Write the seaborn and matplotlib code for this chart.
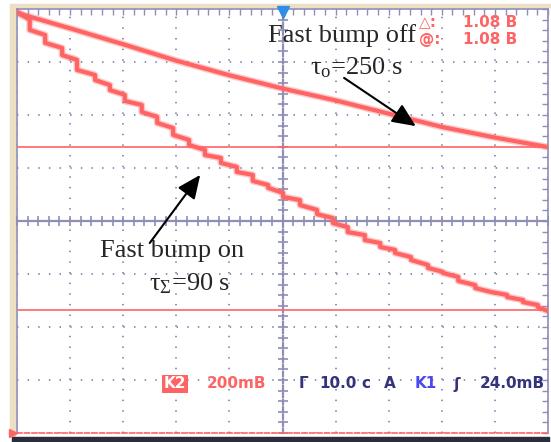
import numpy as np
import pandas as pd
import matplotlib
matplotlib.use("Agg")
import matplotlib.pyplot as plt
import seaborn as sns
from matplotlib.patches import Rectangle
from matplotlib.ticker import MultipleLocator

# scope settings: 10 s/div, 200 mV/div, 10 x 8 divisions
# trace with the fast bump switched off (smooth decay)
upper_t = [0, 10, 20, 30, 40, 50, 60, 70, 80, 90, 100]
upper_mv = [785, 727, 667, 605, 550, 500, 455, 405, 355, 315, 279]

# trace with the fast bump on (stepped decay): step times and segment levels
step_t = [2.4, 5.3, 8.5, 11.3, 14.7, 17.5, 20.3, 23.5, 26.4, 29.4, 32.4,
          35.4, 38.4, 41.4, 44.4, 47.3, 50.1, 53.3, 56.5, 59.5, 62.3, 65.5,
          68.4, 71.2, 74.2, 77.4, 80.2, 83.1, 86.3, 89.3, 92.3, 95.3, 98.1]
seg_start_mv = [789, 721, 672, 626, 570, 532, 494, 453, 411, 370, 325, 287,
                249, 219, 185, 151, 125, 91, 60, 26, -8, -42, -72, -98, -121,
                -147, -177, -196, -226, -253, -268, -287, -306, -325]
seg_end_mv = [759, 702, 653, 608, 551, 513, 476, 438, 393, 351, 306, 268,
              238, 204, 174, 136, 106, 79, 42, 11, -23, -53, -83, -109, -136,
              -166, -192, -211, -242, -268, -279, -298, -317, -340]

cursor_mv = [279, -336]

edges = [0] + step_t + [100]
lower_t, lower_mv = [], []
for i in range(len(seg_start_mv)):
    lower_t += [edges[i], edges[i + 1]]
    lower_mv += [seg_start_mv[i], seg_end_mv[i]]

upper = pd.DataFrame({"t": upper_t, "mv": upper_mv})
lower = pd.DataFrame({"t": lower_t, "mv": lower_mv})

sns.set_style("white")
plt.rcParams["font.family"] = ["Liberation Serif", "DejaVu Serif"]
plt.rcParams["mathtext.fontset"] = "custom"
plt.rcParams["mathtext.rm"] = "Liberation Serif"
plt.rcParams["mathtext.it"] = "Liberation Serif:italic"

RED = "#ff6464"
GRID = "#8e8eb8"
NAVY = "#34347a"

fig = plt.figure(figsize=(5.51, 4.42), dpi=100)
ax = fig.add_axes([17 / 551, 9 / 442, 531 / 551, 424 / 442])

# frame decoration
fig.add_artist(Rectangle((10 / 551, 6 / 442), 5 / 551, 430 / 442,
                         transform=fig.transFigure, color="#ecdfc4", zorder=0))
fig.add_artist(Rectangle((10 / 551, 435 / 442), 541 / 551, 3 / 442,
                         transform=fig.transFigure, color="#ecdfc4", zorder=0))
fig.add_artist(Rectangle((12 / 551, 0), 537 / 551, 5 / 442,
                         transform=fig.transFigure, color="#2c2c3a", zorder=0))

for df in (upper, lower):
    sns.lineplot(data=df, x="t", y="mv", ax=ax, sort=False, estimator=None,
                 color=RED, lw=5, alpha=0.35, zorder=3)
    sns.lineplot(data=df, x="t", y="mv", ax=ax, sort=False, estimator=None,
                 color=RED, lw=3, zorder=4)

for c in cursor_mv:
    ax.axhline(c, color=RED, lw=1.2, zorder=2)

ax.set_xlim(0, 100)
ax.set_ylim(-800, 800)
ax.set_xticks(range(0, 101, 10))
ax.set_yticks(range(-800, 801, 200))
ax.xaxis.set_minor_locator(MultipleLocator(2))
ax.yaxis.set_minor_locator(MultipleLocator(40))
ax.grid(True, color=GRID, lw=1.4, linestyle=(0, (0.75, 4.72)))
ax.tick_params(which="both", direction="in", top=True, right=True,
               labelbottom=False, labelleft=False, length=4, width=1,
               color=GRID)
ax.set_xlabel("")
ax.set_ylabel("")
for s in ax.spines.values():
    s.set_color(GRID)
    s.set_linewidth(1.2)
ax.spines["bottom"].set_color(RED)
ax.spines["bottom"].set_linestyle((0, (3, 1.5)))

# centre axes with ticks
secx = ax.secondary_xaxis(0.5)
secx.set_xticks(np.arange(0, 101, 2))
secx.tick_params(direction="inout", length=7, width=1.2, color=GRID,
                 labelbottom=False, labeltop=False)
for s in secx.spines.values():
    s.set_color(GRID)
    s.set_linewidth(1.6)
secy = ax.secondary_yaxis(0.5)
secy.set_yticks(np.arange(-800, 801, 40))
secy.tick_params(direction="inout", length=7, width=1.2, color=GRID,
                 labelleft=False, labelright=False)
for s in secy.spines.values():
    s.set_color(GRID)
    s.set_linewidth(1.6)
    s.set_linestyle((0, (2, 1.2)))

# trigger markers
ax.plot(0.5, 0.993, marker="v", ms=8, color="#2f8fe8",
        transform=ax.transAxes, clip_on=False, zorder=6)
ax.plot(-0.008, 0.0, marker=">", ms=6, color=RED,
        transform=ax.transAxes, clip_on=False, zorder=6)

# annotations
ax.text(47.3, 676, "Fast bump off", fontsize=19, ha="left", va="baseline",
        zorder=7)
ax.text(55.2, 555, r"$\mathrm{\tau_o}$=250 s", fontsize=19, ha="left",
        va="baseline", zorder=7)
ax.annotate("", xy=(75.1, 358), xytext=(61.6, 540),
            arrowprops=dict(arrowstyle="-|>,head_length=0.72,head_width=0.32",
                            mutation_scale=20, lw=1.5, color="black",
                            shrinkA=0, shrinkB=0), zorder=7)
ax.text(15.6, -136, "Fast bump on", fontsize=19, ha="left", va="baseline",
        zorder=7)
ax.text(24.9, -260, r"$\mathrm{\tau_\Sigma}$=90 s", fontsize=19, ha="left",
        va="baseline", zorder=7)
ax.annotate("", xy=(34.5, 174), xytext=(25.0, -83),
            arrowprops=dict(arrowstyle="-|>,head_length=0.72,head_width=0.32",
                            mutation_scale=20, lw=1.5, color="black",
                            shrinkA=0, shrinkB=0), zorder=7)

# scope readouts
mono = ["DejaVu Sans"]
def px(x, y):
    return ((x - 17) / 531, (433 - y) / 424)

kw = dict(fontsize=11, family=mono, fontweight="bold", va="center",
          transform=ax.transAxes)
ax.text(*px(419, 23), "\u25b3:", color=RED, ha="left", **kw)
ax.text(*px(419, 40), "@:", color=RED, ha="left", **kw)
ax.text(*px(517, 23), "1.08 B", color=RED, ha="right", **kw)
ax.text(*px(517, 40), "1.08 B", color=RED, ha="right", **kw)

ax.text(*px(175, 384), "K2", color="white", ha="center",
        bbox=dict(boxstyle="square,pad=0.1", fc=RED, ec="none"), **kw)
ax.text(*px(207, 384), "200mB", color=RED, ha="left", **kw)
ax.text(*px(299, 384), "\u0393", color=NAVY, ha="left", **kw)
ax.text(*px(319, 384), "10.0", color=NAVY, ha="left", **kw)
ax.text(*px(361, 384), "c", color=NAVY, ha="left", **kw)
ax.text(*px(384, 384), "A", color=NAVY, ha="left", **kw)
ax.text(*px(415, 384), "K1", color="#4a4af0", ha="left", **kw)
ax.text(*px(453, 384), "\u0283", color=NAVY, ha="left", **kw)
ax.text(*px(480, 384), "24.0mB", color=NAVY, ha="left", **kw)

fig.savefig("out.png", dpi=100)
